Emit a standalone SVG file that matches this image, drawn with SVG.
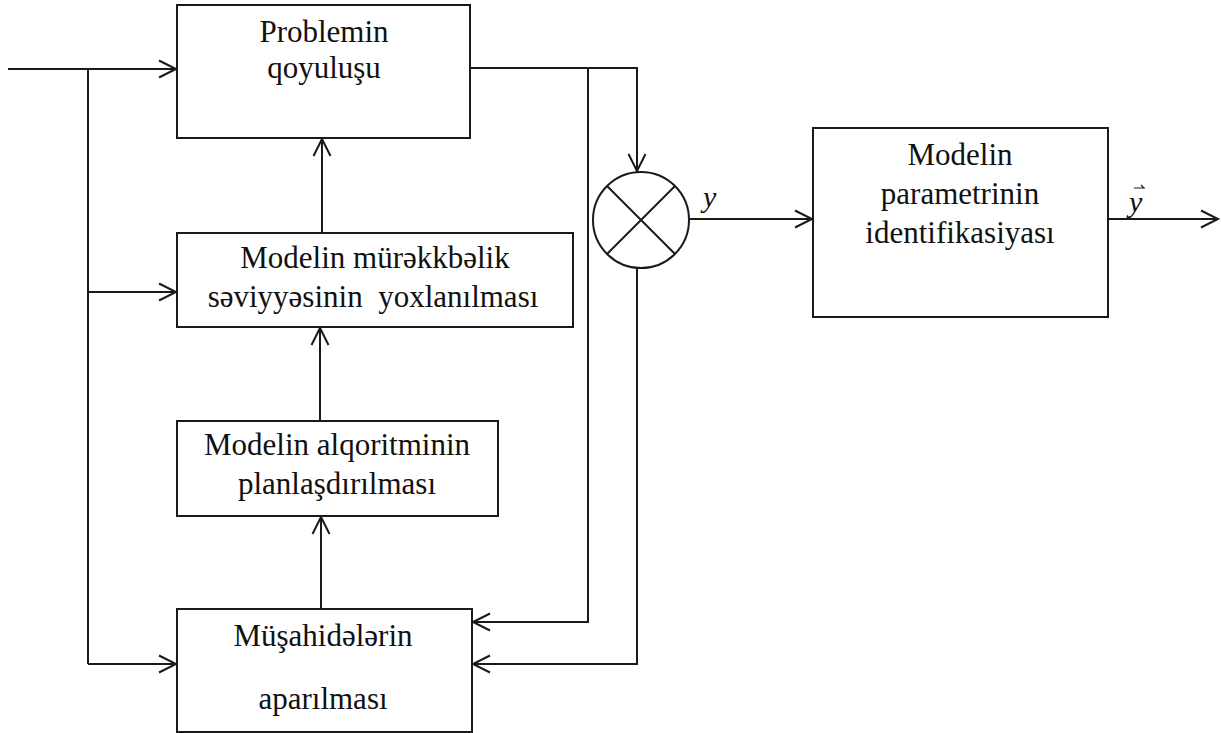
<svg xmlns="http://www.w3.org/2000/svg" width="1221" height="733" viewBox="0 0 1221 733">
<style>
.box{fill:#fff;stroke:#1a1a1a;stroke-width:2}
.ln{fill:none;stroke:#1a1a1a;stroke-width:2}
.t{font-family:'Liberation Serif','Times New Roman',serif;font-size:31px;fill:#111;text-anchor:middle}
.it{font-family:'Liberation Serif','Times New Roman',serif;font-size:30px;font-style:italic;fill:#111}
</style>
<defs>
<marker id="arr" markerUnits="userSpaceOnUse" markerWidth="24" markerHeight="24" viewBox="-20 -12 24 24" refX="0" refY="0" orient="auto">
<path d="M-17,-8.5 L0,0 L-17,8.5" fill="none" stroke="#1a1a1a" stroke-width="2"/>
</marker>
</defs>
<g id="connectors">
<path class="ln" d="M8,69 H176" marker-end="url(#arr)"/>
<path class="ln" d="M88,69 V664"/>
<path class="ln" d="M88,292 H176" marker-end="url(#arr)"/>
<path class="ln" d="M88,664 H176" marker-end="url(#arr)"/>
<path class="ln" d="M322,233 V139" marker-end="url(#arr)"/>
<path class="ln" d="M320,421 V328" marker-end="url(#arr)"/>
<path class="ln" d="M321,609 V517" marker-end="url(#arr)"/>
<path class="ln" d="M470,68 H637 V171" marker-end="url(#arr)"/>
<path class="ln" d="M588,68 V622 H473" marker-end="url(#arr)"/>
<path class="ln" d="M637,268 V664 H473" marker-end="url(#arr)"/>
<path class="ln" d="M689,219 H812" marker-end="url(#arr)"/>
<path class="ln" d="M1108,219 H1218" marker-end="url(#arr)"/>
</g>
<g id="n1">
<rect class="box" x="177" y="5" width="293" height="133"/>
<text class="t" x="324" y="42">Problemin</text>
<text class="t" x="324" y="78">qoyuluşu</text>
</g>
<g id="n2">
<rect class="box" x="177" y="233" width="396" height="94"/>
<text class="t" x="375" y="268">Modelin mürəkkbəlik</text>
<text class="t" x="373" y="307" xml:space="preserve">səviyyəsinin  yoxlanılması</text>
</g>
<g id="n3">
<rect class="box" x="177" y="421" width="321" height="95"/>
<text class="t" x="337" y="455">Modelin alqoritminin</text>
<text class="t" x="337" y="494">planlaşdırılması</text>
</g>
<g id="n4">
<rect class="box" x="177" y="609" width="295" height="123"/>
<text class="t" x="323" y="646">Müşahidələrin</text>
<text class="t" x="323" y="709">aparılması</text>
</g>
<g id="sum">
<circle cx="641" cy="220" r="48" class="ln"/>
<path class="ln" d="M607,186 L675,254 M675,186 L607,254"/>
<text class="it" x="703" y="207">y</text>
</g>
<g id="n5">
<rect class="box" x="813" y="128" width="295" height="189"/>
<text class="t" x="960" y="165">Modelin</text>
<text class="t" x="960" y="204">parametrinin</text>
<text class="t" x="960" y="243">identifikasiyası</text>
</g>
<g id="out">
<text class="it" x="1129" y="212">y</text>
<path d="M1134,188 H1144 L1141,185" fill="none" stroke="#1a1a1a" stroke-width="1.2"/>
</g>
</svg>
